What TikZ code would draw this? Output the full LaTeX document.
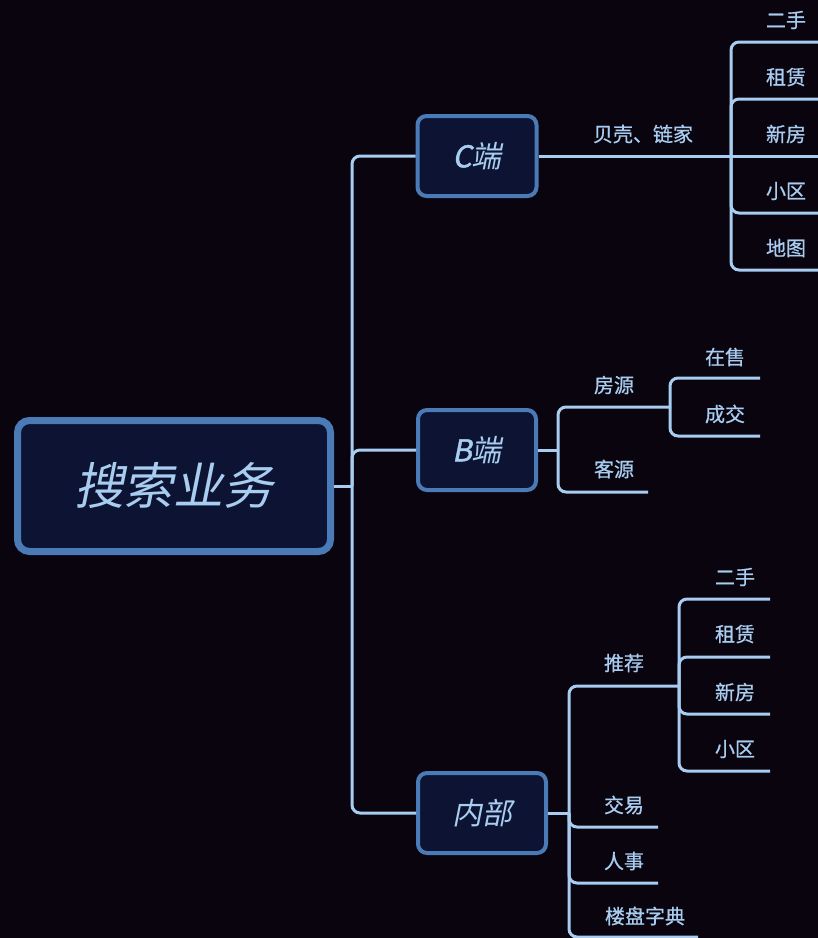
\documentclass[tikz,border=0pt]{standalone}
\usepackage{fontspec}
\newfontfamily\cjk[FakeBold=0.7]{Noto Sans CJK SC}
\newfontfamily\cjkit[FakeSlant=0.2]{Noto Sans CJK SC}
\newfontfamily\cjkbit[FakeSlant=0.2,FakeBold=1.5]{Noto Sans CJK SC}
\usetikzlibrary{calc}
\definecolor{bgc}{HTML}{0A040F}
\definecolor{boxfill}{HTML}{0D1433}
\definecolor{boxline}{HTML}{4A7BB7}
\definecolor{ink}{HTML}{A8CDF0}
\begin{document}
\begin{tikzpicture}[x=1pt,y=-1pt,
  rootbox/.style={draw=boxline, line width=7pt, fill=boxfill, rounded corners=12pt,
    inner sep=0pt, minimum width=313pt, minimum height=131pt, text=ink,
    font=\cjkit\fontsize{50}{60}\selectfont},
  mainbox/.style={draw=boxline, line width=4pt, fill=boxfill, rounded corners=9pt,
    inner sep=0pt, minimum height=80pt, text=ink,
    font=\cjkit\fontsize{30}{36}\selectfont},
  leaf/.style={text=ink, inner sep=0pt, font=\cjk\fontsize{20}{24}\selectfont},
  conn/.style={draw=ink, line width=3pt, rounded corners=8pt}]
\fill[bgc] (0,0) rectangle (818,938);
\useasboundingbox (0,0) rectangle (818,938);
\clip (0,0) rectangle (818,938);

% main nodes
\node[rootbox] (root) at (174,486) {搜索业务};
\node[mainbox, minimum width=119pt] (C) at (477,156) {{\cjkbit C}端};
\node[mainbox, minimum width=118pt] (B) at (477,450) {{\cjkbit B}端};
\node[mainbox, minimum width=128pt] (N) at (482,813) {内部};

% spine
\coordinate (s) at (352,486);
\draw[conn] (root.east) -- (s);
\draw[conn] (C.west) -| (s) |- (N.west);
\draw[conn] (B.west) -| (s);

% ---- C branch
\coordinate (cj) at (731,156);
\node[leaf] (bk) at (643,134) {贝壳、链家};
\draw[conn] (C.east) -- (cj);
\node[leaf] (c1) at (786,20) {二手};
\node[leaf] (c2) at (786,77) {租赁};
\node[leaf] (c3) at (786,134) {新房};
\node[leaf] (c4) at (786,191) {小区};
\node[leaf] (c5) at (786,248) {地图};
\coordinate (c1e) at (830,42);
\coordinate (c2e) at (830,99);
\coordinate (c3e) at (830,156);
\coordinate (c4e) at (830,213);
\coordinate (c5e) at (830,270);
\draw[conn] (cj) |- (c1e);
\draw[conn] (cj) |- (c2e);
\draw[conn] (cj) -- (c3e);
\draw[conn] (cj) |- (c4e);
\draw[conn] (cj) |- (c5e);

% ---- B branch
\coordinate (bj) at (558,450);
\draw[conn] (B.east) -- (bj);
\node[leaf] (fy) at (614,385) {房源};
\node[leaf] (ky) at (614,469) {客源};
\coordinate (fyj) at (670,407);
\coordinate (kye) at (648,492);
\draw[conn] (bj) |- (fyj);
\draw[conn] (bj) |- (kye);
\node[leaf] (zs) at (725,357) {在售};
\node[leaf] (cj2) at (725,414) {成交};
\coordinate (zse) at (760,378);
\coordinate (cje) at (760,436);
\draw[conn] (fyj) |- (zse);
\draw[conn] (fyj) |- (cje);

% ---- internal branch
\coordinate (nj) at (569,813);
\draw[conn] (N.east) -- (nj);
\node[leaf] (tj) at (624,663) {推荐};
\node[leaf] (jy) at (624,805) {交易};
\node[leaf] (rs) at (624,861) {人事};
\node[leaf] (lp) at (645,916) {楼盘字典};
\coordinate (tjj) at (679,686);
\coordinate (jye) at (658,827);
\coordinate (rse) at (658,883);
\coordinate (lpe) at (698,937);
\draw[conn] (nj) |- (tjj);
\draw[conn] (nj) |- (jye);
\draw[conn] (nj) |- (rse);
\draw[conn] (nj) |- (lpe);
\node[leaf] (t1) at (735,577) {二手};
\node[leaf] (t2) at (735,634) {租赁};
\node[leaf] (t3) at (735,692) {新房};
\node[leaf] (t4) at (735,749) {小区};
\coordinate (t1e) at (770,599);
\coordinate (t2e) at (770,657);
\coordinate (t3e) at (770,714);
\coordinate (t4e) at (770,771);
\draw[conn] (tjj) |- (t1e);
\draw[conn] (tjj) |- (t2e);
\draw[conn] (tjj) |- (t3e);
\draw[conn] (tjj) |- (t4e);
\end{tikzpicture}
\end{document}
